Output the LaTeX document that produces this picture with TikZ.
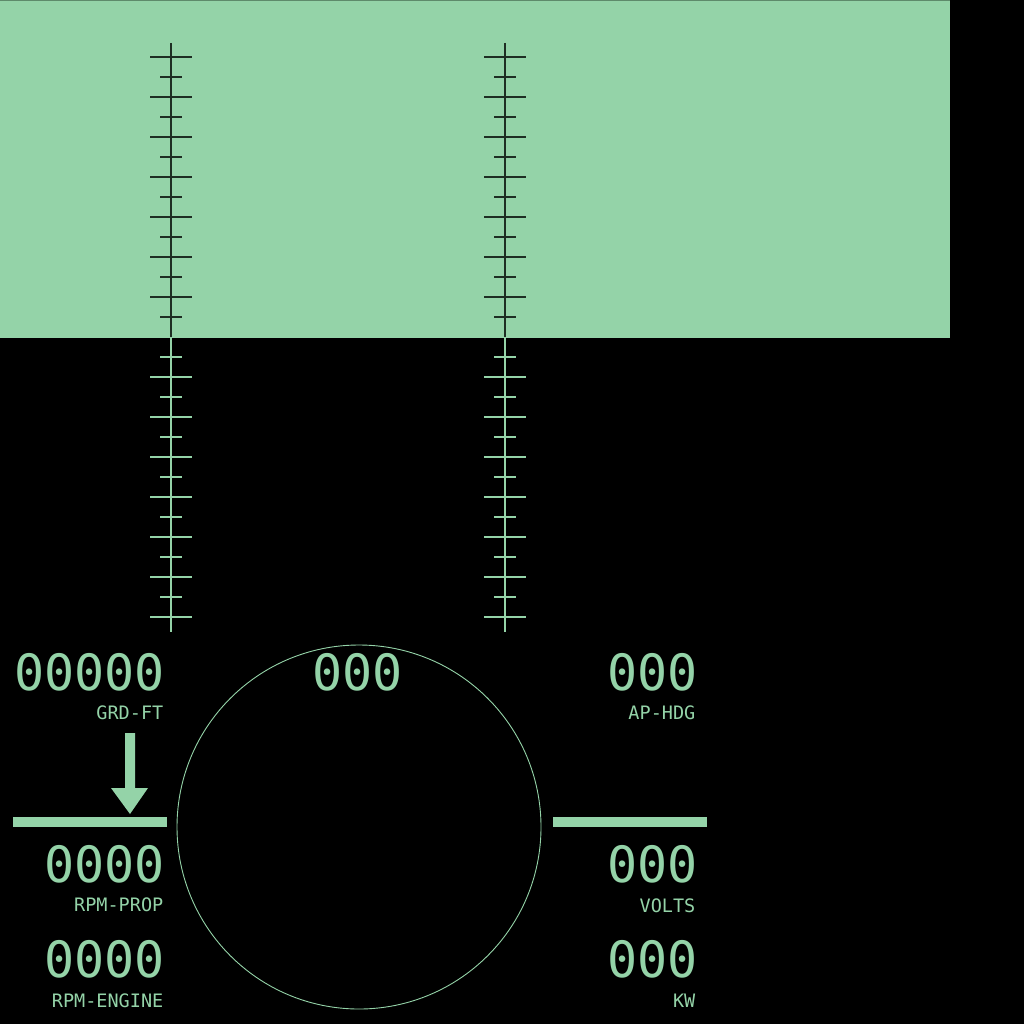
\documentclass[tikz,border=0pt]{standalone}
\usepackage{fontspec}
\newfontfamily\monofont{DejaVu Sans Mono}
\definecolor{hud}{HTML}{94D3A8}
\definecolor{hudedge}{HTML}{5E8A6B}
\definecolor{tickdark}{HTML}{1E2E23}
\tikzset{
  bignum/.style={inner sep=0pt, text=hud, font=\monofont\fontsize{50}{50}\selectfont},
  lbl/.style={inner sep=0pt, text=hud, font=\monofont\fontsize{18.5}{18.5}\selectfont},
  bar/.style={fill=hud, draw=none},
  scaleline/.style={line width=1.2pt},
}
\newcommand{\hudscale}[2]{%
  \draw[scaleline, #2] (#1,43) -- (#1,632);
  \foreach \yy in {57,97,...,297,377,417,...,617} {\draw[scaleline, #2] ({#1-21},\yy) -- ({#1+21},\yy);}
  \foreach \yy in {77,117,...,597} {\draw[scaleline, #2] ({#1-11},\yy) -- ({#1+11},\yy);}
}
\begin{document}
\begin{tikzpicture}[x=1pt,y=-1pt]
\useasboundingbox (0,0) rectangle (1024,1024);
\fill[black] (0,0) rectangle (1024,1024);
% top panel
\fill[hud] (0,0) rectangle (950,337.5);
\draw[hudedge, line width=0.8pt] (0,0.4) -- (950,0.4);
% scales on green
\begin{scope}
  \clip (0,0) rectangle (950,337.5);
  \hudscale{171}{tickdark}
  \hudscale{505}{tickdark}
\end{scope}
% scales on black
\begin{scope}
  \clip (0,337.5) rectangle (1024,1024);
  \hudscale{171}{hud}
  \hudscale{505}{hud}
\end{scope}
% compass circle
\node[circle, draw=hud, line width=0.9pt, minimum size=364pt, inner sep=0pt] (compass) at (359,827) {};
% bars
\path[bar] (13,816.5) rectangle (167,827) coordinate (lbar);
\path[bar] (553,816.5) rectangle (707,827) coordinate (rbar);
% arrow
\coordinate (arrtop) at (130,733);
\coordinate (arrtip) at (130,814);
\fill[hud] (125,733) -- (135,733) -- (135,788) -- (148,788) -- (arrtip) -- (111,788) -- (125,788) -- cycle;
% numbers and labels
\node[bignum, anchor=base east] (grd) at (165,690) {00000};
\node[lbl, anchor=base east] (grdl) at (163.5,719) {GRD-FT};
\node[bignum, anchor=base] (hdg) at (357.5,690) {000};
\node[bignum, anchor=base east] (ap) at (698,690) {000};
\node[lbl, anchor=base east] (apl) at (695.5,719) {AP-HDG};
\node[bignum, anchor=base east] (rpmp) at (165,882) {0000};
\node[lbl, anchor=base east] (rpmpl) at (163.5,911) {RPM-PROP};
\node[bignum, anchor=base east] (rpme) at (165,977) {0000};
\node[lbl, anchor=base east] (rpmel) at (163.5,1007) {RPM-ENGINE};
\node[bignum, anchor=base east] (volts) at (698,882) {000};
\node[lbl, anchor=base east] (voltsl) at (695.5,912) {VOLTS};
\node[bignum, anchor=base east] (kw) at (698,977) {000};
\node[lbl, anchor=base east] (kwl) at (695.5,1007) {KW};
\end{tikzpicture}
\end{document}
